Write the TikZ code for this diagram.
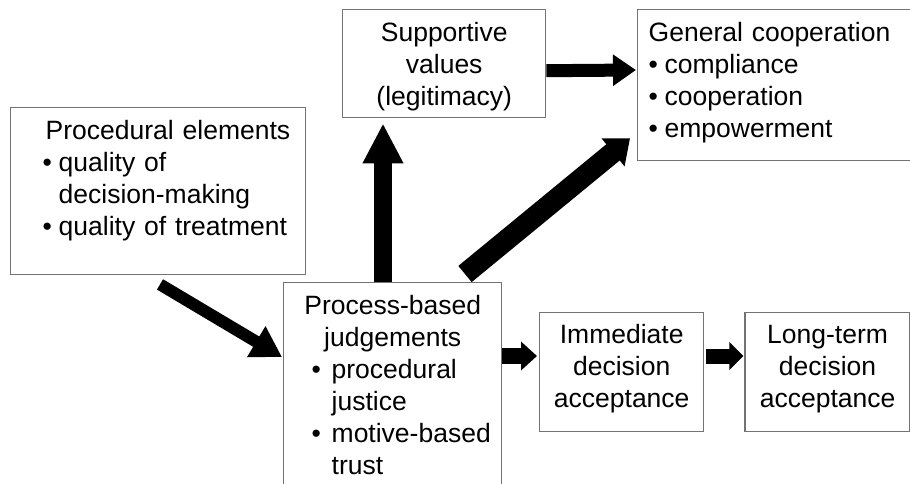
\documentclass[tikz,border=0pt]{standalone}
\usepackage{fontspec}
\setmainfont{Liberation Sans}
\usetikzlibrary{positioning,arrows.meta}
\newcommand{\bul}[1][8pt]{\makebox[#1][l]{\textbullet}}

\begin{document}
\begin{tikzpicture}[x=0.5pt, y=-0.5pt]
\tikzset{
    panel/.style={rectangle, draw=black!55, line width=0.7pt, fill=white, inner sep=0pt, anchor=north west, text height=16pt, font=\fontsize{13.25pt}{16pt}\selectfont},
    fat/.style={line width=#1, draw=black}
}
\useasboundingbox (0,0) rectangle (910,483);

\node[panel, align=left, text width=147.5pt, text depth=67.5pt] (procedural) at (10,107)
    {\hspace*{17.5pt}Procedural elements\\
     \hspace*{16pt}\bul quality of\\
     \hspace*{24pt}decision-making\\
     \hspace*{16pt}\bul quality of treatment};
\node[panel, align=center, text width=101.5pt, text depth=38pt] (supportive) at (342,9)
    {Supportive\\values\\(legitimacy)};
\node[panel, align=left, text width=137.5pt, text depth=59.5pt] (general) at (637,9)
    {\hspace*{5.5pt}General cooperation\\
     \hspace*{5.5pt}\bul compliance\\
     \hspace*{5.5pt}\bul cooperation\\
     \hspace*{5.5pt}\bul empowerment};
\node[panel, align=left, text width=109pt, text depth=88pt] (process) at (283,282)
    {\makebox[\linewidth]{Process-based}\\
     \makebox[\linewidth]{judgements}\\
     \hspace*{14pt}\bul[10pt]procedural\\
     \hspace*{24pt}justice\\
     \hspace*{14pt}\bul[10pt]motive-based\\
     \hspace*{24pt}trust};
\node[panel, align=center, text width=82pt, text height=15.5pt, text depth=44pt] (immediate) at (539,312)
    {Immediate\\decision\\acceptance};
\node[panel, align=center, text width=82.5pt, text height=15.5pt, text depth=44pt, right=20pt of immediate] (longterm)
    {Long-term\\decision\\acceptance};

% block arrows
\draw[fat=6pt, -{Triangle[length=15pt, width=17pt]}] ([shift={(150,9)}]procedural.south west) -- ([shift={(-1,75)}]process.north west);
\draw[fat=9pt, -{Triangle[length=20pt, width=19pt]}] ([shift={(100,0)}]process.north west) -- ([shift={(41,5)}]supportive.south west);
\draw[fat=10.5pt, -{Triangle[length=11pt, width=17.5pt]}] ([shift={(182,-8)}]process.north west) -- ([shift={(-7,-23)}]general.south west);
\draw[fat=6.5pt, -{Triangle[length=11.5pt, width=15pt]}] ([shift={(0,7)}]supportive.east) -- ([shift={(-1,61)}]general.north west);
\draw[fat=8pt, -{Triangle[length=8pt, width=14pt]}] ([shift={(0,74)}]process.north east) -- ([shift={(-2,44)}]immediate.north west);
\draw[fat=7.5pt, -{Triangle[length=7pt, width=13.5pt]}] ([shift={(2,44)}]immediate.north east) -- ([shift={(-1,44)}]longterm.north west);
\end{tikzpicture}
\end{document}
